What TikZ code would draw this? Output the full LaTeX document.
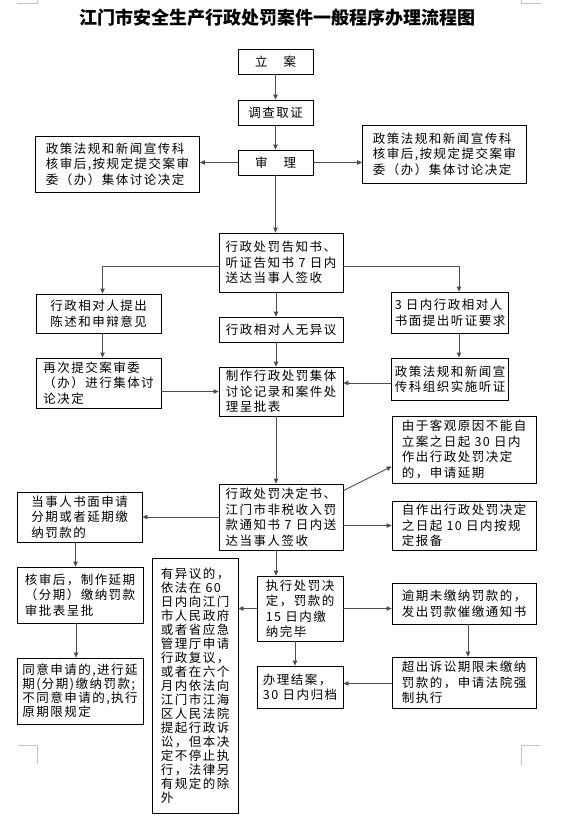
\documentclass[tikz,border=0pt]{standalone}
\usepackage{fontspec}
\setmainfont{Noto Sans CJK SC}
\newfontfamily\cjkbody[LetterSpace=12]{Noto Sans CJK SC}
\usetikzlibrary{arrows.meta, positioning, calc}
\definecolor{linegray}{HTML}{4D4D4D}
\definecolor{markgray}{HTML}{C4C4C4}

\begin{document}
\begin{tikzpicture}[x=1pt, y=-1pt,
  box/.style={rectangle, draw=black, line width=0.8pt, align=left, inner sep=3pt, font=\cjkbody\fontsize{12.5}{15.5}\selectfont},
  tight/.style={font=\cjkbody\fontsize{12.5}{14}\selectfont},
  small/.style={box, minimum width=75pt, minimum height=25pt},
  topbox/.style={box, minimum width=164pt},
  midbox/.style={box, minimum width=124pt},
  sidebox/.style={box, minimum width=125pt},
  rightbox/.style={box, minimum width=116pt},
  widebox/.style={box, minimum width=144pt},
  narrow/.style={box, minimum width=86pt},
  heading/.style={font=\bfseries\fontsize{18}{20}\selectfont},
  arrow/.style={-{Triangle[length=5pt, width=4.5pt]}, line width=0.8pt, color=linegray},
  cropmark/.style={draw=markgray, line width=0.6pt}
]
  \useasboundingbox (0,0) rectangle (565,820);

  % page corner marks
  \draw[cropmark] (17,3) -- (37,3) -- (37,0);
  \draw[cropmark] (541,3) -- (521,3) -- (521,0);
  \draw[cropmark] (18,745) -- (37,745) -- (37,764);
  \draw[cropmark] (540,745) -- (521,745) -- (521,765);

  \node[heading] (title) at (277,18) {江门市安全生产行政处罚案件一般程序办理流程图};

  % centre column
  \node[small] (lian) at (275.5,61.5) {立\hspace{16pt}案};
  \node[small] (diaocha) at (275.5,112.5) {调查取证};
  \node[small] (shenli) at (275.5,162.5) {审\hspace{16pt}理};
  \node[topbox, minimum height=56pt] (fzleft) at (117.5,164) {政策法规和新闻宣传科\\核审后,按规定提交案审\\委（办）集体讨论决定};
  \node[topbox, minimum height=58pt] (fzright) at (444.5,154) {政策法规和新闻宣传科\\核审后,按规定提交案审\\委（办）集体讨论决定};

  \node[midbox, minimum height=59pt] (gaozhi) at (281,262.5) {行政处罚告知书、\\听证告知书 7 日内\\送达当事人签收};
  \node[sidebox, minimum height=39pt] (chenshu) at (98.5,313.5) {行政相对人提出\\陈述和申辩意见};
  \node[midbox, minimum height=25pt] (wuyiyi) at (281,329.5) {行政相对人无异议};
  \node[rightbox, minimum height=41pt] (tingzheng) at (450,312.5) {3 日内行政相对人\\书面提出听证要求};

  \node[sidebox, minimum height=50pt] (zaici) at (98.5,383) {再次提交案审委\\（办）进行集体讨\\论决定};
  \node[midbox, minimum height=49pt] (zhizuo) at (281,391.5) {制作行政处罚集体\\讨论记录和案件处\\理呈批表};
  \node[rightbox, minimum height=42pt] (shishi) at (450,379) {政策法规和新闻宣\\传科组织实施听证};

  \node[widebox, minimum height=67pt] (yanqi) at (464,449.5) {由于客观原因不能自\\立案之日起 30 日内\\作出行政处罚决定\\的，申请延期};
  \node[midbox, minimum height=66pt] (jueding) at (281,517) {行政处罚决定书、\\江门市非税收入罚\\款通知书 7 日内送\\达当事人签收};
  \node[sidebox, minimum height=50pt] (fenqi) at (79.5,517) {当事人书面申请\\分期或者延期缴\\纳罚款的};
  \node[widebox, minimum height=49pt] (baobei) at (464,525.5) {自作出行政处罚决定\\之日起 10 日内按规\\定报备};

  \node[sidebox, minimum width=126pt, minimum height=56pt] (shenpi) at (80,595) {核审后，制作延期\\（分期）缴纳罚款\\审批表呈批};
  \node[sidebox, tight, minimum width=126pt, minimum height=66pt] (tongyi) at (80,691) {同意申请的,进行延\\期(分期)缴纳罚款;\\不同意申请的,执行\\原期限规定};
  \node[narrow, tight, minimum height=255pt, anchor=north] (yiyi) at (195,558) {有异议的，\\依法在 60\\日内向江门\\市人民政府\\或者省应急\\管理厅申请\\行政复议，\\或者在六个\\月内依法向\\江门市江海\\区人民法院\\提起行政诉\\讼，但本决\\定不停止执\\行，法律另\\有规定的除\\外};
  \node[narrow, minimum height=65pt] (zhixing) at (300,608.5) {执行处罚决\\定，罚款的\\15 日内缴\\纳完毕};
  \node[widebox, minimum height=41pt] (cuijiao) at (464,603.5) {逾期未缴纳罚款的，\\发出罚款催缴通知书};
  \node[narrow, minimum height=42pt] (jiean) at (300,687) {办理结案，\\30 日内归档};
  \node[widebox, minimum height=51pt] (qiangzhi) at (464,682.5) {超出诉讼期限未缴纳\\罚款的，申请法院强\\制执行};

  % connectors
  \draw[arrow] (lian) -- (diaocha);
  \draw[arrow] (diaocha) -- (shenli);
  \draw[arrow] (shenli.west) -- (shenli.west -| fzleft.east);
  \draw[arrow] (shenli.east) -- (shenli.east -| fzright.west);
  \draw[arrow] (shenli.south) -- (shenli.south |- gaozhi.north);
  \draw[arrow] ([yshift=-4pt]gaozhi.west) -| ([xshift=4pt]chenshu.north);
  \draw[arrow] ([yshift=-4pt]gaozhi.east) -| ([xshift=9pt]tingzheng.north);
  \draw[arrow] ([xshift=-5pt]gaozhi.south) -- ([xshift=-5pt]wuyiyi.north);
  \draw[arrow] ([xshift=4pt]chenshu.south) -- ([xshift=4pt]zaici.north);
  \draw[arrow] ([xshift=9pt]tingzheng.south) -- ([xshift=9pt]shishi.north);
  \draw[arrow] ([xshift=-5pt]wuyiyi.south) -- ([xshift=-5pt]zhizuo.north);
  \draw[arrow] (zaici.east |- zhizuo.west) -- (zhizuo.west);
  \draw[arrow] ([yshift=-4pt]shishi.west) -- ([yshift=-4pt]shishi.west -| zhizuo.east);
  \draw[arrow] ([xshift=-5pt]zhizuo.south) -- ([xshift=-5pt]jueding.north);
  \draw[arrow] ([yshift=-7pt]jueding.north east) -- ([yshift=-17pt]yanqi.west);
  \draw[arrow] (jueding.west) -- (jueding.west -| fenqi.east);
  \draw[arrow] (jueding.east |- baobei.west) -- (baobei.west);
  \draw[arrow] ([xshift=-5pt]jueding.south) -- ([xshift=-5pt]jueding.south |- zhixing.north);
  \draw[arrow] ([xshift=-4pt]fenqi.south) -- ([xshift=-4pt]fenqi.south |- shenpi.north);
  \draw[arrow] ([xshift=-4pt]shenpi.south) -- ([xshift=-4pt]tongyi.north);
  \draw[arrow] (zhixing.west) -- (zhixing.west -| yiyi.east);
  \draw[arrow] (zhixing.east) -- (zhixing.east -| cuijiao.west);
  \draw[arrow] ([xshift=4pt]cuijiao.south) -- ([xshift=4pt]qiangzhi.north);
  \draw[arrow] ([xshift=-5pt]zhixing.south) -- ([xshift=-5pt]jiean.north);
  \draw[arrow] ([yshift=-1pt]qiangzhi.west) -- ([yshift=-1pt]qiangzhi.west -| jiean.east);
\end{tikzpicture}
\end{document}
